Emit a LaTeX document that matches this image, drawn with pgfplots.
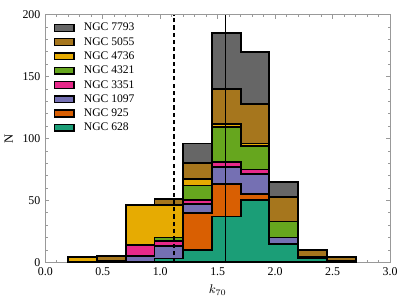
\documentclass[border=0pt]{standalone}
\usepackage{pgfplots}
\usepackage{pgfplotstable}
\pgfplotsset{compat=1.18}
\usepackage{fontspec}
\setmainfont{Liberation Serif}

\definecolor{c628}{HTML}{1B9E77}
\definecolor{c925}{HTML}{D95F02}
\definecolor{c1097}{HTML}{7570B3}
\definecolor{c3351}{HTML}{E7298A}
\definecolor{c4321}{HTML}{66A61E}
\definecolor{c4736}{HTML}{E6AB02}
\definecolor{c5055}{HTML}{A6761D}
\definecolor{c7793}{HTML}{666666}
\definecolor{framegray}{HTML}{999999}

% bin left edges (last row closes the final bin at 2.7)
\pgfplotstableread{
x    n628 n925 n1097 n3351 n4321 n4736 n5055 n7793
0.20 0    0    0     0     0     4     0     0
0.45 0    0    1     0     0     0     4     0
0.70 0    0    5     9     0     32    0     0
0.95 3    0    10    4     3     26    5     0
1.20 10   30   7     3     12    5     13    16
1.45 37   26   14    4     28    3     28    45
1.70 50   5    16    4     19    2     32    42
1.95 15   0    5     0     13    0     20    12
2.20 3    0    1     0     0     0     6     0
2.45 0    0    1     0     0     0     3     0
2.70 0    0    1     0     0     0     3     0
}\hist

\pgfplotstableread{
x y
1.12 0
1.12 200
}\dashline
\pgfplotstableread{
x y
1.57 0
1.57 200
}\solidline

\begin{document}
\begin{tikzpicture}
\pgfplotsset{
  common/.style={
    scale only axis,
    width=246.5pt, height=177pt,
    xmin=0, xmax=3, ymin=0, ymax=200,
  },
}
\begin{axis}[
  common,
  stack plots=y,
  const plot,
  xtick={0,0.5,...,3},
  ytick={0,50,...,200},
  minor x tick num=4,
  minor y tick num=4,
  tick align=inside,
  major tick length=3pt,
  minor tick length=1.6pt,
  axis line style={draw=framegray, line width=0.6pt},
  every tick/.style={draw=framegray, line width=0.5pt},
  /pgf/number format/assume math mode=true,
  xticklabel style={/pgf/number format/.cd, fixed, fixed zerofill, precision=1},
  ticklabel style={font=\fontsize{8.5}{10}\selectfont},
  xlabel={$k_{70}$},
  ylabel={N},
  label style={font=\fontsize{9}{10}\selectfont},
  reverse legend,
  legend cell align=left,
  legend style={
    draw=none, fill=none,
    at={(0.024,0.975)}, anchor=north west,
    font=\fontsize{8.3}{10}\selectfont,
    inner sep=0pt,
    nodes={inner sep=1pt, text height=6pt, text depth=1.6pt},
    row sep=0.6pt,
    column sep=5.5pt,
  },
  legend image code/.code={
    \draw[#1, draw=black, line width=1pt] (0pt,-2.4pt) rectangle (14pt,2.4pt);
  },
  every axis plot/.append style={draw=black, line width=1.3pt},
]
\addplot[fill=c628]  table[x=x, y=n628]  {\hist} \closedcycle;
\addlegendentry{NGC 628}
\addplot[fill=c925]  table[x=x, y=n925]  {\hist} \closedcycle;
\addlegendentry{NGC 925}
\addplot[fill=c1097] table[x=x, y=n1097] {\hist} \closedcycle;
\addlegendentry{NGC 1097}
\addplot[fill=c3351] table[x=x, y=n3351] {\hist} \closedcycle;
\addlegendentry{NGC 3351}
\addplot[fill=c4321] table[x=x, y=n4321] {\hist} \closedcycle;
\addlegendentry{NGC 4321}
\addplot[fill=c4736] table[x=x, y=n4736] {\hist} \closedcycle;
\addlegendentry{NGC 4736}
\addplot[fill=c5055] table[x=x, y=n5055] {\hist} \closedcycle;
\addlegendentry{NGC 5055}
\addplot[fill=c7793] table[x=x, y=n7793] {\hist} \closedcycle;
\addlegendentry{NGC 7793}
\end{axis}
\begin{axis}[common, hide axis]
\addplot[black, line width=0.8pt, dashed, dash pattern=on 3pt off 2.2pt] table[x=x,y=y] {\dashline};
\addplot[black, line width=0.8pt] table[x=x,y=y] {\solidline};
\end{axis}
\path (current axis.south west) ++(-31.5pt,-29.9pt);
\path (current axis.north east) ++(12.1pt,10.5pt);
\end{tikzpicture}
\end{document}
